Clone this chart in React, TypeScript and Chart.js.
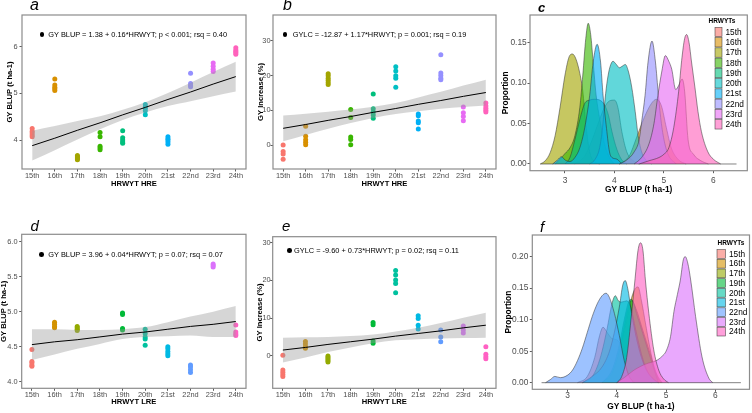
import React, { useEffect, useRef } from 'react';
import { Chart, registerables } from 'chart.js';

Chart.register(...registerables);

const FONT = "'Liberation Sans', Arial, sans-serif";
const TICK_LEN = 2.5;

// ---------- categories ----------
const trials = ['15th', '16th', '17th', '18th', '19th', '20th', '21st', '22nd', '23rd', '24th'];
const trialColors = ['#F8766D', '#D89000', '#A3A500', '#39B600', '#00BF7D', '#00BFC4', '#00B0F6', '#9590FF', '#E76BF3', '#FF62BC'];
const trialsLRE = ['15th', '16th', '17th', '19th', '20th', '21st', '22nd', '23rd', '24th'];
const trialColorsLRE = ['#F8766D', '#D39200', '#93AA00', '#00BA38', '#00C19F', '#00B9E3', '#619CFF', '#DB72FB', '#FF61C3'];

// ---------- (a) GY BLUP, HRE ----------
const gyBlupHRE = [
  [4.25, 4.19, 4.15, 4.11, 4.07],
  [5.31, 5.18, 5.13, 5.10, 5.06],
  [3.67, 3.64, 3.62, 3.60, 3.58],
  [4.16, 4.07, 3.87, 3.83, 3.79],
  [4.20, 4.05, 4.00, 3.96, 3.93],
  [4.76, 4.71, 4.68, 4.63, 4.54],
  [4.07, 4.03, 4.00, 3.96, 3.91],
  [5.43, 5.21, 5.17, 5.14],
  [5.65, 5.58, 5.52, 5.47],
  [5.98, 5.93, 5.90, 5.87, 5.84],
];
const gyBlupHREFit = [3.88, 4.04, 4.21, 4.37, 4.54, 4.70, 4.87, 5.03, 5.20, 5.36];
const gyBlupHREUpper = [4.20, 4.30, 4.41, 4.51, 4.65, 4.81, 5.01, 5.23, 5.46, 5.68];
const gyBlupHRELower = [3.56, 3.78, 4.01, 4.23, 4.43, 4.59, 4.73, 4.83, 4.94, 5.04];
const gyBlupHREEq = 'GY BLUP = 1.38 + 0.16*HRWYT; p < 0.001; rsq = 0.40';

// ---------- (b) GY increase, HRE ----------
const gyIncHRE = [
  [0.0, -1.9, -2.6, -4.1],
  [5.4, 2.5, 1.5, 0.8, 0.1],
  [20.5, 19.9, 19.2, 18.6, 18.0, 17.4],
  [10.2, 7.9, 2.3, 1.6, 0.1],
  [14.7, 10.4, 9.5, 8.6, 7.7],
  [22.5, 21.3, 19.9, 19.2, 16.6],
  [8.9, 8.4, 6.9, 6.4, 4.6],
  [26.0, 20.7, 20.0, 19.2, 18.8],
  [10.9, 9.3, 8.2, 7.0],
  [12.1, 11.2, 10.6, 10.0, 9.5],
];
const gyIncHREFit = [4.8, 5.9, 7.1, 8.2, 9.4, 10.5, 11.7, 12.8, 14.0, 15.1];
const gyIncHREUpper = [8.5, 9.0, 9.6, 10.2, 11.0, 12.1, 13.7, 15.3, 17.1, 18.8];
const gyIncHRELower = [1.1, 2.9, 4.7, 6.3, 7.8, 8.9, 9.7, 10.4, 10.9, 11.4];
const gyIncHREEq = 'GYLC = -12.87 + 1.17*HRWYT; p = 0.001; rsq = 0.19';

// ---------- (d) GY BLUP, LRE ----------
const gyBlupLRE = [
  [4.46, 4.29, 4.27, 4.24, 4.22],
  [4.85, 4.82, 4.79, 4.77],
  [4.79, 4.77, 4.75, 4.73],
  [4.98, 4.96, 4.76, 4.74],
  [4.75, 4.69, 4.64, 4.61, 4.52],
  [4.50, 4.47, 4.43, 4.40, 4.37],
  [4.24, 4.21, 4.17, 4.13],
  [5.68, 5.66, 5.64],
  [4.81, 4.71, 4.68, 4.66],
];
const gyBlupLREFit = [4.53, 4.57, 4.60, 4.64, 4.68, 4.71, 4.75, 4.79, 4.82, 4.86];
const gyBlupLREUpper = [4.75, 4.75, 4.74, 4.74, 4.75, 4.78, 4.85, 4.93, 5.00, 5.08];
const gyBlupLRELower = [4.31, 4.39, 4.47, 4.54, 4.61, 4.64, 4.65, 4.66, 4.64, 4.64];
const gyBlupLREEq = 'GY BLUP = 3.96 + 0.04*HRWYT; p = 0.07; rsq = 0.07';

// ---------- (e) GY increase, LRE ----------
const gyIncLRE = [
  [0.1, -3.8, -4.4, -5.0, -5.5],
  [3.8, 3.1, 2.4, 2.0],
  [-0.1, -0.5, -0.9, -1.3, -1.7],
  [8.8, 8.2, 3.9, 3.3],
  [22.6, 21.4, 20.1, 19.2, 16.7],
  [10.6, 9.9, 8.1, 7.1],
  [6.8, 5.0, 3.7],
  [7.9, 6.8, 6.0],
  [2.4, 0.4, -0.3, -0.8],
];
const gyIncLREFit = [1.5, 2.2, 3.0, 3.7, 4.4, 5.2, 5.9, 6.6, 7.4, 8.1];
const gyIncLREUpper = [4.8, 4.9, 5.0, 5.2, 5.6, 6.4, 7.4, 8.7, 10.1, 11.4];
const gyIncLRELower = [-1.8, -0.5, 1.0, 2.2, 3.3, 4.1, 4.4, 4.6, 4.7, 4.8];
const gyIncLREEq = 'GYLC = -9.60 + 0.73*HRWYT; p = 0.02; rsq = 0.11';

// ---------- (c) densities, HRE: [GY BLUP, proportion] ----------
const densHRE: number[][][] = [
  [[3.2, 0], [3.4, 0.01], [3.55, 0.03], [3.7, 0.055], [3.8, 0.07], [3.9, 0.078], [4.0, 0.079], [4.07, 0.07], [4.15, 0.04], [4.25, 0.015], [4.4, 0.003], [4.5, 0]],
  [[4.1, 0], [4.3, 0.01], [4.45, 0.033], [4.6, 0.057], [4.75, 0.075], [4.85, 0.08], [4.95, 0.072], [5.05, 0.045], [5.15, 0.02], [5.3, 0.005], [5.45, 0]],
  [[2.5, 0], [2.6, 0.004], [2.7, 0.014], [2.8, 0.035], [2.9, 0.07], [3.0, 0.11], [3.08, 0.132], [3.15, 0.136], [3.22, 0.13], [3.3, 0.112], [3.36, 0.09], [3.42, 0.05], [3.5, 0.015], [3.6, 0.003], [3.7, 0]],
  [[2.8, 0], [2.9, 0.006], [3.0, 0.013], [3.1, 0.02], [3.2, 0.035], [3.3, 0.07], [3.36, 0.11], [3.42, 0.155], [3.47, 0.174], [3.52, 0.16], [3.57, 0.126], [3.63, 0.085], [3.72, 0.05], [3.8, 0.025], [3.9, 0.008], [4.0, 0]],
  [[3.0, 0], [3.1, 0.008], [3.2, 0.03], [3.3, 0.055], [3.4, 0.075], [3.5, 0.079], [3.6, 0.08], [3.7, 0.079], [3.8, 0.073], [3.88, 0.06], [3.95, 0.04], [4.05, 0.018], [4.15, 0.005], [4.25, 0]],
  [[3.5, 0], [3.6, 0.005], [3.7, 0.02], [3.76, 0.045], [3.81, 0.08], [3.86, 0.105], [3.91, 0.12], [3.97, 0.127], [4.04, 0.123], [4.1, 0.119], [4.16, 0.121], [4.22, 0.123], [4.28, 0.115], [4.35, 0.095], [4.42, 0.065], [4.48, 0.035], [4.55, 0.015], [4.65, 0.004], [4.75, 0]],
  [[2.75, 0], [2.85, 0.005], [2.93, 0.009], [3.0, 0.005], [3.1, 0.003], [3.2, 0.008], [3.3, 0.02], [3.4, 0.045], [3.5, 0.085], [3.57, 0.126], [3.65, 0.148], [3.72, 0.126], [3.77, 0.085], [3.84, 0.044], [3.9, 0.015], [3.95, 0.008], [4.05, 0.006], [4.15, 0]],
  [[4.1, 0], [4.25, 0.005], [4.4, 0.015], [4.5, 0.03], [4.55, 0.052], [4.62, 0.085], [4.68, 0.126], [4.76, 0.152], [4.83, 0.126], [4.89, 0.085], [4.95, 0.05], [5.02, 0.025], [5.1, 0.01], [5.25, 0]],
  [[4.4, 0], [4.55, 0.008], [4.7, 0.025], [4.8, 0.05], [4.88, 0.085], [4.96, 0.115], [5.03, 0.134], [5.1, 0.127], [5.16, 0.117], [5.24, 0.092], [5.3, 0.097], [5.37, 0.105], [5.42, 0.09], [5.49, 0.03], [5.6, 0.012], [5.75, 0.004], [5.9, 0]],
  [[4.5, 0], [4.7, 0.004], [4.9, 0.008], [5.0, 0.012], [5.1, 0.02], [5.2, 0.045], [5.3, 0.09], [5.36, 0.128], [5.42, 0.155], [5.46, 0.16], [5.51, 0.15], [5.56, 0.126], [5.63, 0.094], [5.69, 0.065], [5.76, 0.04], [5.89, 0.015], [6.0, 0.006], [6.15, 0]],
];
const densHRERange = [2.5, 6.47];

// ---------- (f) densities, LRE ----------
const densLRE: number[][][] = [
  [[3.2, 0], [3.4, 0.01], [3.55, 0.04], [3.65, 0.075], [3.72, 0.088], [3.8, 0.08], [3.9, 0.07], [4.0, 0.068], [4.1, 0.058], [4.25, 0.03], [4.4, 0.01], [4.55, 0.003], [4.7, 0]],
  [[3.7, 0], [3.9, 0.015], [4.05, 0.05], [4.2, 0.1], [4.3, 0.135], [4.38, 0.15], [4.43, 0.152], [4.5, 0.13], [4.58, 0.095], [4.66, 0.06], [4.74, 0.03], [4.82, 0.012], [4.92, 0]],
  [[3.7, 0], [3.9, 0.015], [4.05, 0.05], [4.15, 0.09], [4.25, 0.125], [4.3, 0.13], [4.4, 0.115], [4.5, 0.09], [4.6, 0.065], [4.7, 0.04], [4.78, 0.018], [4.85, 0.005], [4.9, 0]],
  [[3.7, 0], [3.9, 0.02], [4.05, 0.06], [4.15, 0.1], [4.25, 0.13], [4.3, 0.132], [4.4, 0.11], [4.5, 0.085], [4.6, 0.06], [4.7, 0.035], [4.78, 0.015], [4.85, 0]],
  [[3.3, 0], [3.5, 0.01], [3.6, 0.025], [3.7, 0.05], [3.8, 0.085], [3.9, 0.125], [3.97, 0.138], [4.03, 0.13], [4.1, 0.128], [4.2, 0.13], [4.28, 0.12], [4.38, 0.085], [4.5, 0.045], [4.62, 0.018], [4.75, 0.005], [4.85, 0]],
  [[3.3, 0], [3.5, 0.01], [3.7, 0.025], [3.85, 0.05], [3.95, 0.08], [4.05, 0.12], [4.12, 0.155], [4.17, 0.162], [4.22, 0.15], [4.3, 0.11], [4.4, 0.07], [4.5, 0.04], [4.6, 0.02], [4.75, 0.005], [4.85, 0]],
  [[2.55, 0], [2.65, 0.005], [2.74, 0.01], [2.85, 0.008], [3.0, 0.012], [3.1, 0.02], [3.2, 0.035], [3.3, 0.055], [3.4, 0.08], [3.5, 0.105], [3.6, 0.125], [3.7, 0.138], [3.78, 0.142], [3.85, 0.135], [3.95, 0.11], [4.05, 0.075], [4.15, 0.035], [4.25, 0.01], [4.35, 0]],
  [[4.0, 0], [4.15, 0.008], [4.35, 0.02], [4.6, 0.03], [4.8, 0.035], [4.92, 0.042], [5.0, 0.05], [5.09, 0.073], [5.16, 0.113], [5.23, 0.14], [5.29, 0.163], [5.35, 0.195], [5.39, 0.2], [5.44, 0.19], [5.5, 0.163], [5.6, 0.105], [5.73, 0.041], [5.87, 0.007], [5.95, 0]],
  [[4.0, 0], [4.1, 0.01], [4.2, 0.04], [4.3, 0.11], [4.37, 0.165], [4.43, 0.21], [4.48, 0.222], [4.53, 0.21], [4.58, 0.163], [4.65, 0.11], [4.75, 0.052], [4.85, 0.02], [4.95, 0.006], [5.05, 0]],
];
const densLRERange = [2.47, 6.52];

// ---------- helpers ----------
function hexA(hex: string, a: number) {
  const n = parseInt(hex.slice(1), 16);
  return `rgba(${(n >> 16) & 255},${(n >> 8) & 255},${n & 255},${a})`;
}

const framePlugin = {
  id: 'frame',
  afterDatasetsDraw(chart: any) {
    const { ctx, chartArea: a } = chart;
    ctx.save();
    ctx.strokeStyle = '#8c8c8c';
    ctx.lineWidth = 1.2;
    ctx.strokeRect(a.left, a.top, a.right - a.left, a.bottom - a.top);
    ctx.restore();
  },
};

function legendPlugin(o: any) {
  return {
    id: 'insideLegend',
    afterDraw(chart: any) {
      const ctx = chart.ctx;
      ctx.save();
      ctx.textBaseline = 'middle';
      ctx.textAlign = 'center';
      ctx.fillStyle = '#000';
      ctx.font = `bold ${o.titleSize}px ${FONT}`;
      ctx.fillText(o.title, o.titleX, o.titleY);
      ctx.textAlign = 'left';
      o.items.forEach((lab: string, i: number) => {
        const cy = o.y0 + i * o.dy;
        ctx.fillStyle = '#fff';
        ctx.fillRect(o.x, cy - o.h / 2, o.w, o.h);
        ctx.fillStyle = hexA(o.colors[i], 0.6);
        ctx.fillRect(o.x, cy - o.h / 2, o.w, o.h);
        ctx.strokeStyle = 'rgba(40,40,40,0.8)';
        ctx.lineWidth = 0.6;
        ctx.strokeRect(o.x, cy - o.h / 2, o.w, o.h);
        ctx.fillStyle = '#000';
        ctx.font = `${o.size}px ${FONT}`;
        ctx.fillText(lab, o.x + o.w + o.gap, cy + 0.5);
      });
      ctx.restore();
    },
  };
}

function makeScales(o: any) {
  const { area, txt } = o;
  const grid = {
    display: true, drawOnChartArea: false, drawTicks: true,
    tickLength: TICK_LEN, tickColor: '#333333', tickWidth: 0.8, color: '#333333',
  };
  return {
    x: {
      type: 'linear', min: o.xMin, max: o.xMax,
      afterBuildTicks: (s: any) => { s.ticks = o.xTicks.map((v: number) => ({ value: v })); },
      afterFit: (s: any) => { s.height = area.h - area.b; s.paddingLeft = 0; s.paddingRight = 0; },
      ticks: {
        autoSkip: false, maxRotation: 0, minRotation: 0, color: '#4d4d4d',
        font: { family: FONT, size: o.tickSize, lineHeight: 1 },
        padding: txt.xTickY - area.b - TICK_LEN - o.tickSize / 2,
        callback: (v: number) => o.xFmt(v),
      },
      grid, border: { display: false },
      title: {
        display: true, text: o.xTitle, color: '#000',
        font: { family: FONT, size: o.titleSize, weight: 'bold', lineHeight: 1 },
        padding: { top: 0, bottom: area.h - txt.xTitleY - o.titleSize / 2 },
      },
    },
    y: {
      type: 'linear', min: o.yMin, max: o.yMax,
      afterBuildTicks: (s: any) => { s.ticks = o.yTicks.map((v: number) => ({ value: v })); },
      afterFit: (s: any) => { s.width = area.l; s.paddingTop = 0; s.paddingBottom = 0; },
      ticks: {
        autoSkip: false, color: '#4d4d4d',
        font: { family: FONT, size: o.tickSize, lineHeight: 1 },
        padding: area.l - TICK_LEN - txt.yTickRight,
        callback: (v: number) => o.yFmt(v),
      },
      grid, border: { display: false },
      title: {
        display: true, text: o.yTitle, color: '#000',
        font: { family: FONT, size: o.titleSize, weight: 'bold', lineHeight: 1 },
        padding: { top: txt.yTitleX - o.titleSize / 2, bottom: 0 },
      },
    },
  };
}

function baseOptions(area: any, scales: any) {
  return {
    animation: false, responsive: false, devicePixelRatio: 1, events: [],
    layout: { padding: { left: 0, top: area.t, right: area.w - area.r, bottom: 0 } },
    plugins: { legend: { display: false }, tooltip: { enabled: false } },
    scales,
  };
}

function scatterConfig(s: any) {
  const pos = s.cats.map((c: string) => trials.indexOf(c));
  const xy = (arr: number[]) => arr.map((y, i) => ({ x: i, y }));
  const datasets: any[] = [
    { type: 'line', data: xy(s.upper), borderColor: 'transparent', borderWidth: 0, pointRadius: 0,
      fill: '+1', backgroundColor: 'rgba(153,153,153,0.4)', cubicInterpolationMode: 'monotone', order: 2 },
    { type: 'line', data: xy(s.lower), borderColor: 'transparent', borderWidth: 0, pointRadius: 0,
      fill: false, cubicInterpolationMode: 'monotone', order: 2 },
    { type: 'line', data: xy(s.fit), borderColor: '#000', borderWidth: 1, pointRadius: 0, fill: false, order: 1 },
  ];
  s.cats.forEach((c: string, g: number) => {
    datasets.push({
      type: 'scatter', label: c,
      data: s.values[g].map((y: number) => ({ x: pos[g], y })),
      pointRadius: 2.5, pointBackgroundColor: s.colors[g], pointBorderWidth: 0, order: 3,
    });
  });
  const scales = makeScales({
    area: s.area, txt: s.txt, tickSize: 7.4, titleSize: 7.6,
    xMin: -0.45, xMax: 9.45, xTicks: trials.map((_, i) => i), xFmt: (v: number) => trials[v],
    yMin: s.yMin, yMax: s.yMax, yTicks: s.yTicks, yFmt: s.yFmt,
    xTitle: s.xTitle, yTitle: s.yTitle,
  });
  return { type: 'scatter', data: { datasets }, options: baseOptions(s.area, scales), plugins: [framePlugin] };
}

function densityConfig(s: any) {
  const n = s.cats.length;
  const datasets: any[] = s.dens.map((pts: number[][], g: number) => ({
    type: 'line', label: s.cats[g],
    data: pts.map(([x, y]) => ({ x, y })),
    borderColor: 'rgba(45,45,45,0.85)', borderWidth: 0.6, pointRadius: 0,
    backgroundColor: hexA(s.colors[g], 0.62), fill: 'origin',
    cubicInterpolationMode: 'monotone', order: n - g + 1,
  }));
  datasets.push({
    type: 'line', data: s.range.map((x: number) => ({ x, y: 0 })),
    borderColor: 'rgba(45,45,45,0.85)', borderWidth: 0.7, pointRadius: 0, fill: false, order: 0,
  });
  const scales = makeScales({
    area: s.area, txt: s.txt, tickSize: 8.4, titleSize: 8.4,
    xMin: s.xMin, xMax: s.xMax, xTicks: [3, 4, 5, 6], xFmt: (v: number) => String(v),
    yMin: s.yMin, yMax: s.yMax, yTicks: s.yTicks, yFmt: (v: number) => v.toFixed(2),
    xTitle: 'GY BLUP (t ha-1)', yTitle: 'Proportion',
  });
  return {
    type: 'scatter', data: { datasets }, options: baseOptions(s.area, scales),
    plugins: [framePlugin, legendPlugin({ ...s.legend, items: s.cats, colors: s.colors })],
  };
}

// ---------- panel definitions ----------
const panels = [
  {
    left: 0, top: 0, w: 250, h: 200,
    cfg: () => scatterConfig({
      cats: trials, colors: trialColors, values: gyBlupHRE,
      fit: gyBlupHREFit, upper: gyBlupHREUpper, lower: gyBlupHRELower,
      yMin: 3.38, yMax: 6.68, yTicks: [4, 5, 6], yFmt: (v: number) => String(v),
      xTitle: 'HRWYT HRE', yTitle: 'GY BLUP (t ha-1)',
      area: { w: 250, h: 200, l: 22, r: 248, t: 15, b: 169 },
      txt: { yTitleX: 9.5, yTickRight: 17.5, xTickY: 176, xTitleY: 183.5 },
    }),
  },
  {
    left: 250, top: 0, w: 250, h: 200,
    cfg: () => scatterConfig({
      cats: trials, colors: trialColors, values: gyIncHRE,
      fit: gyIncHREFit, upper: gyIncHREUpper, lower: gyIncHRELower,
      yMin: -6.9, yMax: 37.4, yTicks: [0, 10, 20, 30], yFmt: (v: number) => String(v),
      xTitle: 'HRWYT HRE', yTitle: 'GY Increase (%)',
      area: { w: 250, h: 200, l: 23, r: 248, t: 15, b: 169 },
      txt: { yTitleX: 10.5, yTickRight: 20.5, xTickY: 176, xTitleY: 183.5 },
    }),
  },
  {
    left: 500, top: 0, w: 252, h: 200,
    cfg: () => densityConfig({
      cats: trials, colors: trialColors, dens: densHRE, range: densHRERange,
      xMin: 2.292, xMax: 6.688, yMin: -0.0083, yMax: 0.1842, yTicks: [0, 0.05, 0.1, 0.15],
      area: { w: 252, h: 200, l: 30, r: 247.3, t: 15, b: 170.7 },
      txt: { yTitleX: 5.5, yTickRight: 26.7, xTickY: 180.5, xTitleY: 189.5 },
      legend: { title: 'HRWYTs', titleSize: 6.5, titleX: 222, titleY: 21.5, x: 215, w: 7, h: 9.4, y0: 32, dy: 10.26, gap: 3.5, size: 8.3 },
    }),
  },
  {
    left: 0, top: 205, w: 250, h: 208,
    cfg: () => scatterConfig({
      cats: trialsLRE, colors: trialColorsLRE, values: gyBlupLRE,
      fit: gyBlupLREFit, upper: gyBlupLREUpper, lower: gyBlupLRELower,
      yMin: 3.906, yMax: 6.106, yTicks: [4, 4.5, 5, 5.5, 6], yFmt: (v: number) => v.toFixed(1),
      xTitle: 'HRWYT LRE', yTitle: 'GY BLUP (t ha-1)',
      area: { w: 250, h: 208, l: 21.7, r: 248.3, t: 29.3, b: 183.3 },
      txt: { yTitleX: 4.3, yTickRight: 17.5, xTickY: 189.5, xTitleY: 197 },
    }),
  },
  {
    left: 250, top: 205, w: 250, h: 208,
    cfg: () => scatterConfig({
      cats: trialsLRE, colors: trialColorsLRE, values: gyIncLRE,
      fit: gyIncLREFit, upper: gyIncLREUpper, lower: gyIncLRELower,
      yMin: -8.65, yMax: 31.59, yTicks: [0, 10, 20, 30], yFmt: (v: number) => String(v),
      xTitle: 'HRWYT LRE', yTitle: 'GY Increase (%)',
      area: { w: 250, h: 208, l: 22.7, r: 248.3, t: 31.7, b: 183.3 },
      txt: { yTitleX: 9.5, yTickRight: 20.7, xTickY: 189.5, xTitleY: 197 },
    }),
  },
  {
    left: 500, top: 205, w: 252, h: 208,
    cfg: () => densityConfig({
      cats: trialsLRE, colors: trialColorsLRE, dens: densLRE, range: densLRERange,
      xMin: 2.282, xMax: 6.695, yMin: -0.0105, yMax: 0.2344, yTicks: [0, 0.05, 0.1, 0.15, 0.2],
      area: { w: 252, h: 208, l: 32.3, r: 249.5, t: 30, b: 184.3 },
      txt: { yTitleX: 8.3, yTickRight: 28.3, xTickY: 190.5, xTitleY: 202 },
      legend: { title: 'HRWYTs', titleSize: 6.5, titleX: 231, titleY: 38.3, x: 217, w: 8.5, h: 8.8, y0: 49, dy: 9.7, gap: 3.5, size: 8.3 },
    }),
  },
];

const letters = [
  { t: 'a', x: 30, base: 11, size: 16, bold: false },
  { t: 'b', x: 283, base: 11, size: 16, bold: false },
  { t: 'c', x: 538, base: 11.7, size: 13, bold: true },
  { t: 'd', x: 30.5, base: 231, size: 15, bold: false },
  { t: 'e', x: 282, base: 231, size: 15, bold: false },
  { t: 'f', x: 540, base: 231.7, size: 15, bold: false },
];

const equations = [
  { text: gyBlupHREEq, bx: 42, tx: 48.3, cy: 34.3 },
  { text: gyIncHREEq, bx: 285, tx: 292.7, cy: 34.3 },
  { text: gyBlupLREEq, bx: 41.7, tx: 48.3, cy: 254.3 },
  { text: gyIncLREEq, bx: 289.3, tx: 294, cy: 250.7 },
];

function ChartBox({ left, top, w, h, cfg }: any) {
  const ref = useRef<HTMLCanvasElement>(null);
  useEffect(() => {
    const chart = new Chart(ref.current as HTMLCanvasElement, cfg() as any);
    return () => chart.destroy();
  }, []);
  return (
    <canvas ref={ref} width={w} height={h}
      style={{ position: 'absolute', left, top, width: w, height: h }} />
  );
}

export default function App() {
  return (
    <div style={{ position: 'absolute', left: 0, top: 0, width: 752, height: 413, background: '#fff', overflow: 'hidden' }}>
      {panels.map((p, i) => <ChartBox key={i} {...p} />)}
      {letters.map((l) => (
        <div key={l.t} style={{
          position: 'absolute', left: l.x, top: l.base - 0.8465 * l.size,
          font: `italic ${l.bold ? 'bold ' : ''}${l.size}px 'Liberation Sans', Arial, sans-serif`,
          lineHeight: `${l.size}px`, color: '#000', whiteSpace: 'nowrap',
        }}>{l.t}</div>
      ))}
      {equations.map((e, i) => (
        <React.Fragment key={i}>
          <div style={{
            position: 'absolute', left: e.bx - 2.3, top: e.cy - 2.3, width: 4.6, height: 4.6,
            borderRadius: '50%', background: '#000',
          }} />
          <div style={{
            position: 'absolute', left: e.tx, top: e.cy - 4.4, fontFamily: FONT, fontSize: 7.4,
            lineHeight: '9px', color: '#000', whiteSpace: 'nowrap',
          }}>{e.text}</div>
        </React.Fragment>
      ))}
    </div>
  );
}
